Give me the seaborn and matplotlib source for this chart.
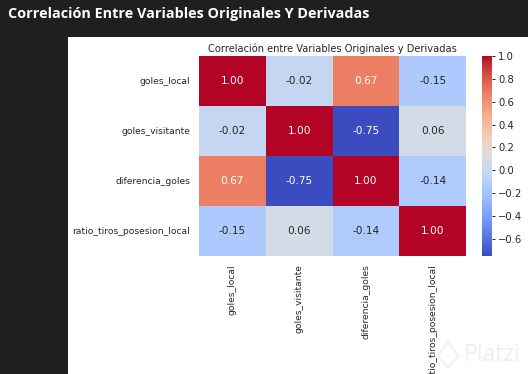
import matplotlib
matplotlib.use("Agg")
import matplotlib.pyplot as plt
from matplotlib.patches import Rectangle, Polygon
import pandas as pd
import seaborn as sns

variables = ["goles_local", "goles_visitante", "diferencia_goles", "ratio_tiros_posesion_local"]
fila_local = [1.00, -0.02, 0.67, -0.15]
fila_visitante = [-0.02, 1.00, -0.75, 0.06]
fila_diferencia = [0.67, -0.75, 1.00, -0.14]
fila_ratio = [-0.15, 0.06, -0.14, 1.00]
titulo = "Correlación entre Variables Originales y Derivadas"
encabezado = "Correlación Entre Variables Originales Y Derivadas"

W, H = 528, 374
corr = pd.DataFrame([fila_local, fila_visitante, fila_diferencia, fila_ratio],
                    index=variables, columns=variables)

fig = plt.figure(figsize=(W / 100, H / 100), dpi=100, facecolor="#1f1f1f")

# zona blanca de la imagen incrustada
fig.add_artist(Rectangle((68 / W, 0), 1 - 68 / W, 1 - 37 / H, zorder=-1,
                         transform=fig.transFigure, facecolor="white", edgecolor="none"))

ax = fig.add_axes([199 / W, 1 - 256 / H, 267 / W, 200 / H])
cax = fig.add_axes([482 / W, 1 - 256 / H, 10 / W, 200 / H])
sns.heatmap(corr, annot=True, fmt=".2f", cmap="coolwarm", ax=ax, cbar_ax=cax,
            annot_kws={"size": 7.6})
ax.set_title(titulo, fontsize=7.1, color="#262626", pad=3)
ax.tick_params(axis="y", length=0, labelsize=6.6, labelcolor="#262626", pad=6.5)
ax.tick_params(axis="x", length=0, labelsize=6.6, labelcolor="#262626", pad=6)
cax.tick_params(labelsize=7.2, length=2.5, width=0.6, pad=2, labelcolor="#262626")

fig.text(8 / W, 1 - 14 / H, encabezado, color="white", fontsize=10.35, fontweight="bold",
         family="Open Sans", va="center", ha="left")

# marca de agua
fig.add_artist(Polygon([(448 / W, 1 - 342 / H), (458 / W, 1 - 355 / H),
                        (448 / W, 1 - 368 / H), (438 / W, 1 - 355 / H)],
                       closed=True, transform=fig.transFigure, fill=False,
                       edgecolor="#f4f5ee", linewidth=2))
fig.text(464 / W, 1 - 355 / H, "Platzi", color="#eeeeee", fontsize=16.5,
         family="Open Sans", va="center", ha="left")

fig.savefig("out.png", dpi=100, facecolor=fig.get_facecolor())
